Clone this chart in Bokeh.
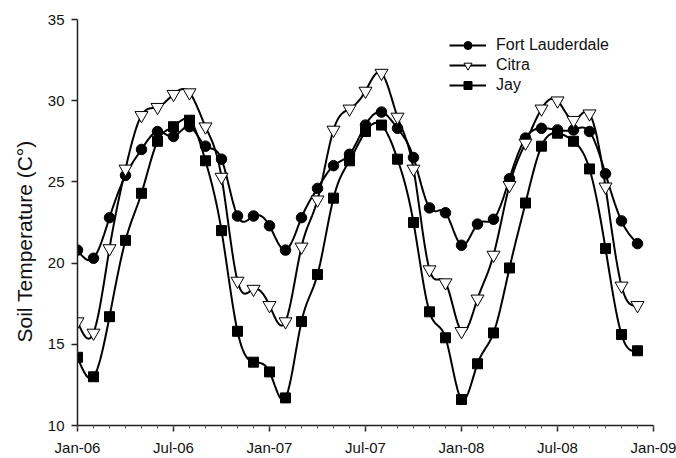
import numpy as np
from bokeh.plotting import figure
from bokeh.models import FixedTicker, Range1d, Legend, LegendItem, Title
from bokeh.embed import file_html
from bokeh.resources import INLINE

# month index from Jan-06
months = list(range(36))

fort_lauderdale = [20.8, 20.3, 22.8, 25.4, 27.0, 28.1, 27.8, 28.4, 27.2, 26.4, 22.9, 22.9,
                   22.3, 20.8, 22.8, 24.6, 26.0, 26.7, 28.5, 29.3, 28.3, 26.5, 23.4, 23.1,
                   21.1, 22.4, 22.7, 25.2, 27.7, 28.3, 28.2, 28.2, 28.1, 25.5, 22.6, 21.2]
citra = [16.4, 15.7, 20.9, 25.8, 29.1, 29.6, 30.4, 30.5, 28.4, 25.3, 18.9, 18.4,
         17.4, 16.4, 21.0, 23.9, 28.2, 29.5, 30.6, 31.7, 29.0, 25.8, 19.6, 18.8,
         15.8, 17.8, 20.5, 24.8, 27.4, 29.5, 30.0, 28.8, 29.2, 24.7, 18.6, 17.4]
jay = [14.2, 13.0, 16.7, 21.4, 24.3, 27.5, 28.4, 28.8, 26.3, 22.0, 15.8, 13.9,
       13.3, 11.7, 16.4, 19.3, 24.0, 26.3, 28.1, 28.5, 26.4, 22.5, 17.0, 15.4,
       11.6, 13.8, 15.7, 19.7, 23.7, 27.2, 28.0, 27.5, 25.8, 20.9, 15.6, 14.6]

tick_pos = [0, 6, 12, 18, 24, 30, 36]
tick_labels = ["Jan-06", "Jul-06", "Jan-07", "Jul-07", "Jan-08", "Jul-08", "Jan-09"]
y_ticks = [10, 15, 20, 25, 30, 35]
y_title = "Soil Temperature (C°)"


def natural_spline(x, y, per=12):
    x = np.asarray(x, float)
    y = np.asarray(y, float)
    n = len(x)
    h = np.diff(x)
    A = np.zeros((n, n))
    b = np.zeros(n)
    A[0, 0] = 1
    A[-1, -1] = 1
    for i in range(1, n - 1):
        A[i, i - 1] = h[i - 1]
        A[i, i] = 2 * (h[i - 1] + h[i])
        A[i, i + 1] = h[i]
        b[i] = 6 * ((y[i + 1] - y[i]) / h[i] - (y[i] - y[i - 1]) / h[i - 1])
    M = np.linalg.solve(A, b)
    xs, ys = [], []
    for i in range(n - 1):
        t = np.linspace(x[i], x[i + 1], per, endpoint=(i == n - 2))
        a = x[i + 1] - t
        c = t - x[i]
        s = (M[i] * a ** 3 + M[i + 1] * c ** 3) / (6 * h[i]) \
            + (y[i] / h[i] - M[i] * h[i] / 6) * a \
            + (y[i + 1] / h[i] - M[i + 1] * h[i] / 6) * c
        xs.extend(t.tolist())
        ys.extend(s.tolist())
    return xs, ys


FONT = "Liberation Sans"

p = figure(width=676, height=458, output_backend="svg", toolbar_location=None,
           x_range=Range1d(0, 36), y_range=Range1d(10, 35),
           min_border_left=77, min_border_top=19, min_border_right=23, min_border_bottom=33)
p.outline_line_color = None
p.xgrid.visible = False
p.ygrid.visible = False
p.background_fill_color = "white"
p.border_fill_color = "white"

p.xaxis.ticker = FixedTicker(ticks=tick_pos, minor_ticks=list(range(37)))
p.xaxis.major_label_overrides = {t: l for t, l in zip(tick_pos, tick_labels)}
p.yaxis.ticker = FixedTicker(ticks=y_ticks, minor_ticks=[])

for ax in (p.xaxis, p.yaxis):
    ax.axis_line_color = "#222222"
    ax.axis_line_width = 1.5
    ax.major_tick_line_color = "#222222"
    ax.major_tick_line_width = 1.5
    ax.major_tick_out = 6
    ax.major_tick_in = 0
    ax.minor_tick_line_color = "#555555"
    ax.minor_tick_line_width = 1
    ax.minor_tick_out = 3
    ax.minor_tick_in = 0
    ax.major_label_text_font = FONT
    ax.major_label_text_font_size = "15px"
    ax.major_label_text_color = "#111111"

p.xaxis.major_label_standoff = 7
p.yaxis.major_label_standoff = 7

# y-axis title in the left panel, shifted a little below the frame centre as in the reference
p.add_layout(Title(text=y_title, align="left", offset=83, standoff=18,
                   text_font=FONT, text_font_size="21px", text_font_style="normal",
                   text_color="#111111"), "left")

items = []
series = [
    ("Fort Lauderdale", fort_lauderdale, "circle", 10.5, "black"),
    ("Citra", citra, "inverted_triangle", 13, "white"),
    ("Jay", jay, "square", 10, "black"),
]
for name, vals, marker, size, fill in series:
    sx, sy = natural_spline(months, vals)
    ln = p.line(sx, sy, line_color="black", line_width=2)
    sc = p.scatter(months, vals, marker=marker, size=size, fill_color=fill,
                   line_color="black", line_width=1)
    items.append(LegendItem(label=name, renderers=[ln, sc]))

legend = Legend(items=items, location=(372, 330), orientation="vertical")
legend.label_text_font = FONT
legend.label_text_font_size = "16px"
legend.label_text_color = "#111111"
legend.glyph_width = 37
legend.glyph_height = 20
legend.label_height = 20
legend.label_standoff = 10
legend.spacing = 0
legend.padding = 0
legend.margin = 0
legend.border_line_color = None
legend.background_fill_alpha = 0
p.add_layout(legend)

open("out.html", "w").write(file_html(p, INLINE))
